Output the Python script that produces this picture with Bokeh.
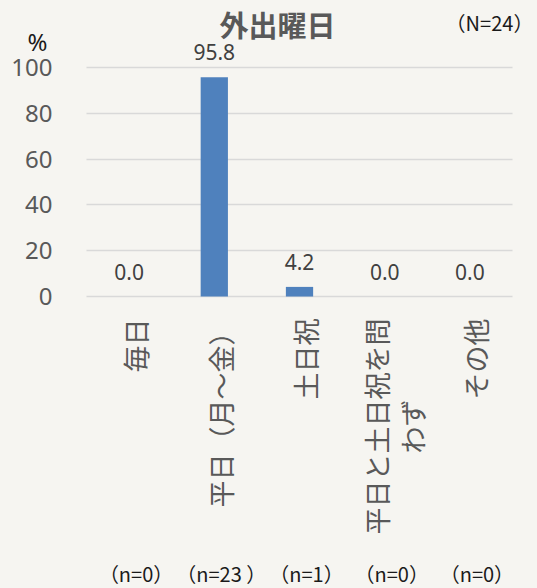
import math
from bokeh.plotting import figure
from bokeh.models import ColumnDataSource, LabelSet, Label, Range1d, FixedTicker, Grid
from bokeh.core.properties import value
from bokeh.embed import file_html
from bokeh.resources import INLINE

# ---- data ----
categories = ["毎日", "平日（月～金）", "土日祝", "平日と土日祝を問わず", "その他"]
values = [0.0, 95.8, 4.2, 0.0, 0.0]
n_labels = ["（n=0）", "（n=23 ）", "（n=1）", "（n=0）", "（n=0）"]
y_ticks = [0, 20, 40, 60, 80, 100]
title_text = "外出曜日"
total_text = "（N=24）"
unit_text = "%"

# ---- style ----
BG = "#F6F5F1"
BAR = "#4F81BD"
GRID = "#D9D9D9"
CJK = "Noto Sans CJK JP"
LAT = "Noto Sans"
WRAP = 8
CAT_FS = 27
W, H = 537, 588

ncat = len(categories)
x_pos = [i + 0.5 for i in range(ncat)]
line1 = [c[:WRAP] for c in categories]
line2 = [c[WRAP:] for c in categories]
wrapped = [len(s) > 0 for s in line2]

src = ColumnDataSource(dict(
    x=x_pos,
    val=values,
    val_text=[f"{v:.1f}" for v in values],
    zero=[0] * ncat,
    n=n_labels,
    l1=line1,
    l1_dx=[6 - (14 if w else 0) for w in wrapped],
))
src2 = ColumnDataSource(dict(
    x=[x for x, w in zip(x_pos, wrapped) if w],
    l2=[s for s, w in zip(line2, wrapped) if w],
    zero=[0 for w in wrapped if w],
    l2_dy=[-(22 + (len(a) - len(b)) * CAT_FS / 2) for a, b, w in zip(line1, line2, wrapped) if w],
))
tick_src = ColumnDataSource(dict(y=y_ticks, x=[0] * len(y_ticks), t=[str(t) for t in y_ticks]))

p = figure(x_range=Range1d(-1.009, ncat + 0.293), y_range=Range1d(-127.5, 129.26),
           width=W, height=H, output_backend="svg", toolbar_location=None,
           x_axis_location=None, y_axis_location=None,
           min_border=0, min_border_left=0, min_border_right=0, min_border_top=0, min_border_bottom=0,
           background_fill_color=BG, border_fill_color=BG, outline_line_color=None)
p.grid.visible = False

try:
    g = Grid(dimension=1, ticker=FixedTicker(ticks=y_ticks), cross_bounds=(0, ncat),
             grid_line_color=GRID, grid_line_width=1.5)
    p.add_layout(g, "center")
except Exception:
    p.segment(x0=0, x1=ncat, y0=y_ticks, y1=y_ticks, line_color=GRID, line_width=1.5)

p.vbar(x="x", top="val", width=0.32, source=src, fill_color=BAR, line_color=None)

# y tick labels
p.add_layout(LabelSet(x="x", y="y", text="t", source=tick_src, x_offset=-34,
                      text_align="right", text_baseline="middle",
                      text_font=value(LAT), text_font_size="24px", text_color="#595959"))

# value labels
p.add_layout(LabelSet(x="x", y="val", text="val_text", source=src, y_offset=17,
                      text_align="center", text_baseline="alphabetic",
                      text_font=value(LAT), text_font_size="21px", text_color="#404040"))

# category labels (vertical)
p.add_layout(LabelSet(x="x", y="zero", text="l1", source=src, y_offset=-22, x_offset="l1_dx",
                      angle=math.pi / 2, text_align="right", text_baseline="middle",
                      text_font=value(CJK), text_font_size=f"{CAT_FS}px", text_color="#595959"))
p.add_layout(LabelSet(x="x", y="zero", text="l2", source=src2, y_offset="l2_dy", x_offset=28,
                      angle=math.pi / 2, text_align="right", text_baseline="middle",
                      text_font=value(CJK), text_font_size=f"{CAT_FS}px", text_color="#595959"))

# n labels
p.add_layout(LabelSet(x="x", y="zero", text="n", source=src, y_offset=-277, x_offset=7,
                      text_align="center", text_baseline="middle",
                      text_font=value(CJK), text_font_size="20px", text_color="#1a1a1a"))

p.add_layout(Label(x=277, y=H - 23, x_units="screen", y_units="screen", text=title_text,
                   text_align="center", text_baseline="middle", text_font=CJK,
                   text_font_size="29px", text_font_style="bold", text_color="#595959"))
p.add_layout(Label(x=489, y=H - 22, x_units="screen", y_units="screen", text=total_text,
                   text_align="center", text_baseline="middle", text_font=CJK,
                   text_font_size="20px", text_color="#1a1a1a"))
p.add_layout(Label(x=37, y=H - 41, x_units="screen", y_units="screen", text=unit_text,
                   text_align="center", text_baseline="middle", text_font=LAT,
                   text_font_size="24px", text_color="#1a1a1a"))

html = file_html(p, INLINE)
html = html.replace("</head>", f"<style>body{{background:{BG};}}</style></head>", 1)
open("out.html", "w").write(html)
